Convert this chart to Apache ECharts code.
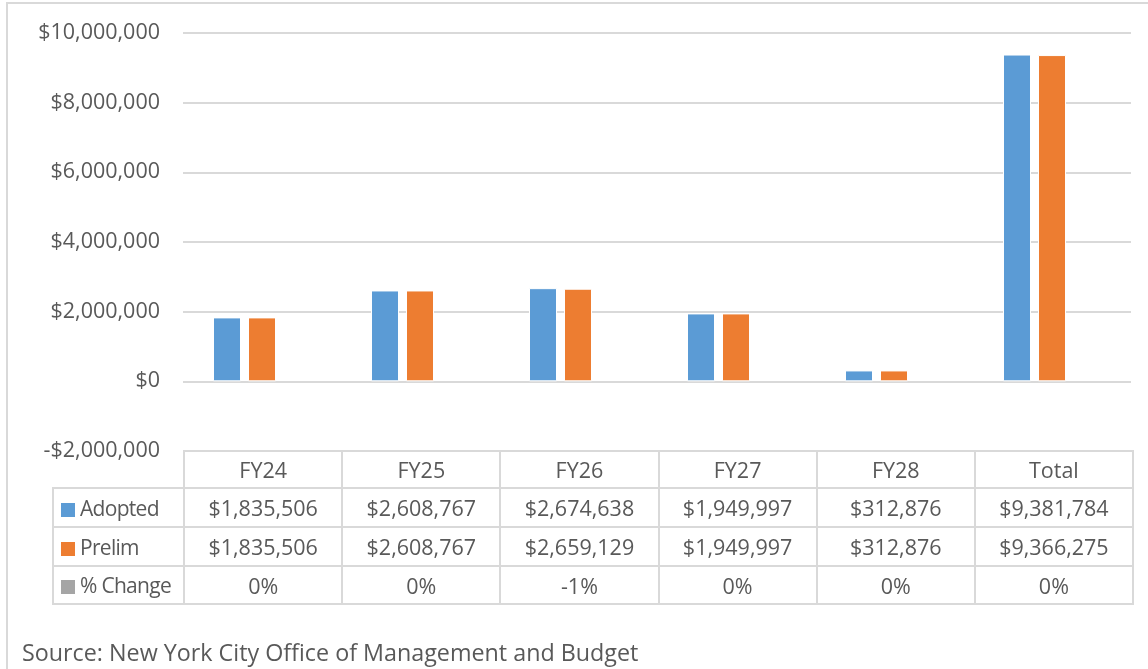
<!DOCTYPE html>
<html>
<head>
<meta charset="utf-8">
<script src="https://cdn.jsdelivr.net/npm/echarts@6/dist/echarts.min.js"></script>
<style>
  body { margin: 0; background: #fff; font-family: "Open Sans", sans-serif; color: #595959; }
  #wrap { position: relative; width: 1148px; height: 669px; overflow: hidden; }
  #frame { position: absolute; left: 6px; top: 2px; width: 1200px; height: 700px;
           border-left: 2px solid #d9d9d9; border-top: 2px solid #d9d9d9; }
  #main { position: absolute; left: 0; top: 0; width: 1148px; height: 669px; }
  #tbl { position: absolute; left: 52px; top: 450px; border-collapse: collapse; table-layout: fixed;
         width: 1082px; font-size: 21.5px; }
  #tbl td { border: 2px solid #d9d9d9; text-align: center; padding: 0; white-space: nowrap; overflow: hidden; }
  #tbl td.lab { text-align: left; padding-left: 7px; font-size: 21px; letter-spacing: -0.7px; }
  #tbl td.blank { border-top: none; border-left: none; }
  .key { display: inline-block; width: 14px; height: 14px; margin-right: 5px; vertical-align: -1px; }
  #src { position: absolute; left: 22px; top: 636px; font-size: 23.3px; }
</style>
</head>
<body>
<div id="wrap">
  <div id="frame"></div>
  <div id="main"></div>
  <table id="tbl"></table>
  <div id="src">Source: New York City Office of Management and Budget</div>
</div>
<script type="text/javascript">
    // 数据
    var categories = ['FY24', 'FY25', 'FY26', 'FY27', 'FY28', 'Total'];
    var adopted = [1835506, 2608767, 2674638, 1949997, 312876, 9381784];
    var prelim = [1835506, 2608767, 2659129, 1949997, 312876, 9366275];
    var pctChange = [0, 0, -1, 0, 0, 0];
    var seriesNames = ['Adopted', 'Prelim', '% Change'];
    var colors = ['#5B9BD5', '#ED7D31', '#A5A5A5'];

    function money(v) {
        var s = Math.abs(v).toLocaleString('en-US');
        return (v < 0 ? '-$' : '$') + s;
    }

    var myChart = echarts.init(document.getElementById('main'));

    var option = {
        color: colors,
        animation: false,
        grid: { left: 183, right: 17, top: 33, bottom: 218 },
        xAxis: {
            type: 'category',
            data: categories,
            axisLine: { show: false },
            axisTick: { show: false },
            axisLabel: { show: false }
        },
        yAxis: {
            type: 'value',
            min: -2000000,
            max: 10000000,
            interval: 2000000,
            axisLabel: {
                formatter: money,
                color: '#595959',
                fontSize: 21.5,
                fontFamily: 'Open Sans',
                margin: 23
            },
            splitLine: { lineStyle: { color: '#d9d9d9', width: 2 } }
        },
        series: [{
            name: seriesNames[0], type: 'bar', data: adopted,
            barWidth: 28, barGap: '25%',
            itemStyle: { borderColor: '#ffffff', borderWidth: 1 }
        }, {
            name: seriesNames[1], type: 'bar', data: prelim,
            barWidth: 28, barGap: '25%',
            itemStyle: { borderColor: '#ffffff', borderWidth: 1 }
        }, {
            // % change 数值太小，柱子看不见
            name: seriesNames[2], type: 'bar', data: pctChange.map(function (p) { return p / 100; }),
            barWidth: 28, barGap: '25%'
        }]
    };
    myChart.setOption(option);

    // 数据表
    var rows = [adopted.map(money), prelim.map(money), pctChange.map(function (p) { return p + '%'; })];
    var html = '<colgroup><col style="width:131px">';
    categories.forEach(function () { html += '<col style="width:158px">'; });
    html += '</colgroup><tr style="height:37px"><td class="blank"></td>';
    categories.forEach(function (c) { html += '<td>' + c + '</td>'; });
    html += '</tr>';
    var rowH = [39, 39, 38];
    rows.forEach(function (r, i) {
        html += '<tr style="height:' + rowH[i] + 'px"><td class="lab"><span class="key" style="background:' +
            colors[i] + '"></span>' + seriesNames[i] + '</td>';
        r.forEach(function (v) { html += '<td>' + v + '</td>'; });
        html += '</tr>';
    });
    document.getElementById('tbl').innerHTML = html;
</script>
</body>
</html>
